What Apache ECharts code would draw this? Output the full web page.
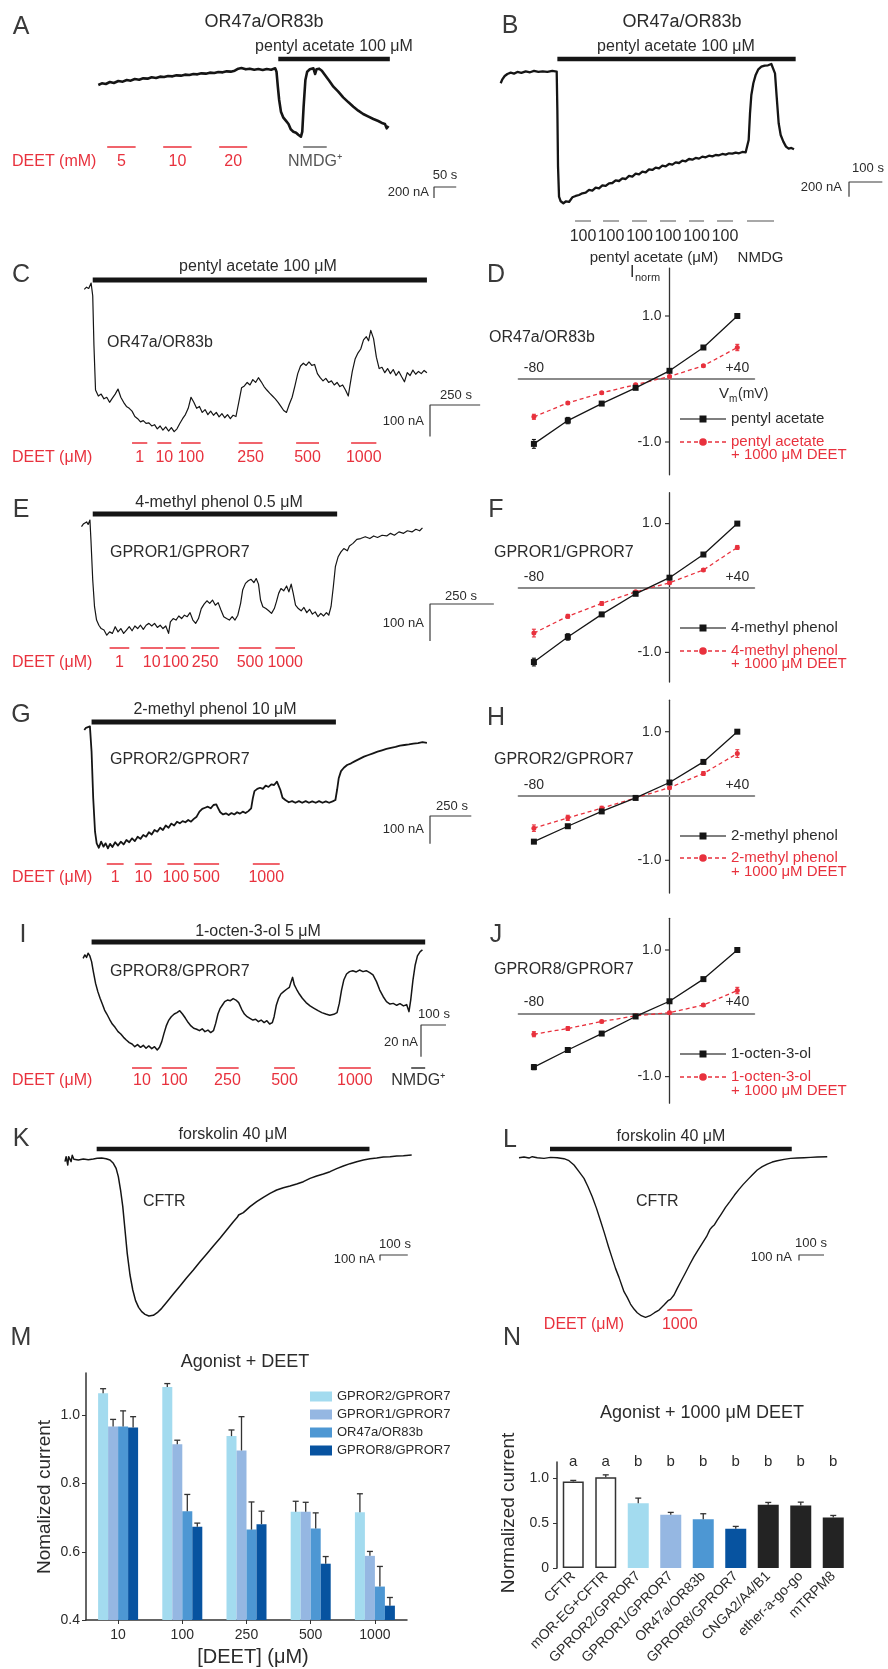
<!DOCTYPE html>
<html>
<head>
<meta charset="utf-8">
<title>DEET inhibition of insect odorant receptor currents</title>
<script src="https://cdn.jsdelivr.net/npm/echarts@6.0.0/dist/echarts.min.js"></script>
<style>
  html, body { margin: 0; padding: 0; background: #ffffff; }
  #fig { width: 888px; height: 1669px; }
</style>
</head>
<body>
<div id="fig"></div>
<script>
// ---------- two-electrode voltage-clamp traces: [time (s), current (nA)] ----------
const traceA = [[0,0],[8,30],[17,18],[26,54],[35,36],[45,72],[55,60],[64,90],[73,78],[82,108],[92,96],[101,120],[111,114],[120,138],[130,126],[139,150],[148,144],[157,162],[167,156],[176,174],[186,168],[195,186],[205,180],[214,198],[223,192],[232,210],[242,204],[251,222],[261,216],[270,234],[280,228],[289,246],[298,240],[307,258],[315,294],[322,306],[332,282],[341,294],[351,276],[360,288],[370,270],[379,288],[389,276],[398,300],[401,240],[404,-30],[407,-270],[411,-480],[416,-582],[422,-642],[428,-702],[433,-798],[439,-840],[445,-858],[450,-894],[456,-930],[459,-840],[462,-390],[466,90],[470,240],[476,282],[484,300],[488,198],[491,282],[497,294],[503,258],[510,180],[520,72],[529,-30],[540,-120],[551,-222],[563,-312],[574,-390],[585,-462],[596,-522],[608,-570],[619,-612],[630,-648],[640,-690],[645,-702],[649,-780],[653,-738]];

const traceB = [[0,0],[5,54],[12,99],[20,126],[30,144],[40,131],[50,153],[62,140],[75,162],[88,149],[100,167],[113,153],[126,162],[140,153],[155,167],[168,158],[170,-360],[172,-1125],[175,-1530],[180,-1593],[188,-1620],[196,-1593],[205,-1602],[215,-1539],[225,-1521],[235,-1508],[245,-1485],[255,-1476],[265,-1440],[275,-1449],[285,-1409],[295,-1418],[305,-1377],[315,-1386],[325,-1350],[335,-1346],[345,-1310],[355,-1319],[365,-1283],[375,-1292],[385,-1251],[395,-1260],[405,-1220],[415,-1229],[425,-1193],[435,-1202],[445,-1161],[455,-1170],[465,-1139],[475,-1148],[485,-1112],[495,-1121],[505,-1089],[515,-1098],[525,-1067],[535,-1076],[545,-1044],[555,-1053],[565,-1022],[575,-1031],[585,-1008],[595,-1017],[605,-990],[615,-999],[625,-977],[635,-986],[645,-968],[655,-972],[665,-954],[675,-963],[685,-945],[695,-950],[705,-936],[715,-945],[725,-927],[735,-932],[741,-909],[744,-765],[748,-405],[752,-158],[758,0],[765,113],[773,189],[782,225],[792,239],[802,243],[812,261],[818,248],[823,135],[828,-180],[834,-540],[840,-698],[848,-788],[856,-855],[864,-882],[872,-873],[880,-891]];

const traceC = [[0,0],[11,7],[22,3],[34,20],[42,-20],[48,-176],[56,-319],[70,-338],[84,-332],[98,-347],[112,-342],[126,-358],[140,-345],[154,-332],[168,-316],[182,-342],[196,-358],[210,-371],[224,-377],[238,-386],[252,-403],[266,-410],[280,-420],[294,-416],[308,-425],[322,-423],[336,-433],[350,-429],[364,-442],[378,-433],[392,-446],[406,-436],[420,-449],[434,-438],[448,-451],[462,-442],[476,-425],[490,-410],[504,-397],[518,-377],[532,-342],[546,-358],[560,-377],[574,-371],[588,-390],[602,-381],[616,-397],[630,-386],[644,-399],[658,-390],[672,-404],[686,-394],[700,-407],[714,-397],[728,-410],[742,-399],[756,-403],[770,-358],[784,-312],[798,-306],[812,-295],[826,-303],[840,-286],[854,-295],[868,-280],[882,-293],[896,-308],[910,-319],[924,-329],[938,-338],[952,-347],[966,-358],[980,-371],[994,-384],[1008,-390],[1022,-364],[1036,-342],[1050,-306],[1064,-267],[1078,-243],[1092,-234],[1106,-241],[1120,-230],[1134,-241],[1148,-238],[1162,-267],[1176,-280],[1190,-290],[1204,-282],[1218,-295],[1232,-290],[1246,-303],[1260,-295],[1274,-308],[1288,-303],[1302,-319],[1316,-338],[1324,-306],[1336,-260],[1350,-221],[1364,-202],[1378,-189],[1392,-160],[1406,-150],[1417,-163],[1428,-130],[1442,-156],[1456,-215],[1470,-251],[1484,-247],[1498,-264],[1512,-251],[1526,-267],[1540,-254],[1554,-273],[1568,-260],[1582,-277],[1596,-293],[1610,-264],[1624,-273],[1638,-256],[1652,-269],[1666,-260],[1680,-267],[1694,-257],[1708,-264]];

const traceE = [[0,0],[7,7],[13,2],[20,13],[26,6],[33,18],[37,-36],[44,-144],[51,-216],[59,-252],[68,-266],[77,-275],[88,-279],[99,-293],[110,-284],[121,-288],[132,-270],[143,-284],[154,-275],[165,-288],[176,-279],[187,-270],[198,-281],[209,-268],[220,-275],[231,-266],[242,-277],[253,-266],[264,-261],[275,-268],[286,-261],[297,-272],[308,-266],[319,-275],[330,-268],[341,-288],[348,-257],[359,-248],[370,-252],[381,-241],[392,-248],[403,-239],[414,-243],[425,-232],[436,-252],[447,-261],[458,-248],[469,-221],[480,-209],[491,-200],[502,-207],[513,-198],[524,-212],[535,-205],[546,-225],[557,-243],[568,-248],[579,-252],[590,-243],[601,-252],[612,-239],[623,-207],[631,-171],[642,-153],[653,-146],[664,-142],[675,-151],[684,-140],[693,-155],[701,-198],[710,-216],[722,-221],[733,-227],[744,-234],[755,-221],[763,-203],[772,-180],[781,-167],[792,-173],[803,-160],[812,-176],[821,-155],[829,-180],[838,-212],[849,-221],[860,-227],[871,-218],[882,-232],[893,-223],[904,-236],[915,-230],[926,-243],[937,-234],[948,-241],[959,-232],[968,-239],[977,-216],[986,-162],[994,-108],[1005,-81],[1016,-68],[1027,-59],[1041,-65],[1049,-52],[1063,-45],[1078,-34],[1093,-32],[1111,-27],[1129,-32],[1144,-25],[1159,-29],[1177,-23],[1195,-25],[1210,-18],[1225,-23],[1243,-14],[1261,-18],[1276,-11],[1294,-14],[1309,-7],[1324,-11],[1335,-3]];

const traceG = [[0,0],[10,8],[20,2],[34,13],[44,-78],[54,-246],[65,-366],[75,-408],[88,-424],[102,-402],[116,-420],[129,-408],[143,-426],[156,-410],[170,-421],[187,-404],[204,-416],[221,-402],[238,-412],[255,-396],[272,-404],[289,-390],[306,-400],[323,-384],[340,-392],[357,-378],[374,-384],[391,-368],[408,-376],[425,-360],[442,-366],[459,-352],[476,-360],[493,-344],[510,-352],[527,-337],[544,-344],[561,-330],[578,-336],[595,-328],[612,-332],[629,-324],[646,-330],[663,-320],[680,-312],[697,-294],[714,-284],[731,-280],[748,-276],[765,-282],[782,-270],[799,-268],[809,-280],[823,-296],[840,-304],[857,-300],[874,-306],[891,-299],[908,-304],[925,-296],[942,-301],[959,-294],[976,-299],[993,-292],[1010,-282],[1020,-246],[1030,-220],[1047,-212],[1064,-208],[1081,-212],[1098,-200],[1115,-205],[1132,-196],[1149,-198],[1166,-186],[1176,-179],[1187,-216],[1200,-244],[1217,-252],[1238,-260],[1258,-256],[1278,-262],[1299,-256],[1319,-262],[1340,-256],[1360,-262],[1380,-257],[1401,-262],[1421,-256],[1442,-262],[1462,-257],[1482,-262],[1503,-257],[1520,-252],[1530,-216],[1540,-174],[1554,-148],[1571,-136],[1591,-126],[1615,-120],[1639,-112],[1666,-104],[1693,-96],[1720,-90],[1748,-84],[1775,-78],[1802,-73],[1829,-68],[1856,-64],[1884,-61],[1911,-56],[1938,-54],[1965,-52],[1992,-49],[2020,-47],[2047,-44],[2074,-46]];

const traceI = [[0,0],[7,2.1],[14,0.6],[20,3.2],[27,1.5],[34,-2.1],[41,-8.4],[50,-15.8],[59,-21.0],[68,-25.2],[77,-28.8],[86,-32.6],[95,-35.1],[106,-38.4],[117,-41.4],[128,-43.5],[140,-46.2],[151,-47.7],[162,-49.8],[173,-51.5],[185,-53.1],[196,-54.0],[207,-55.7],[218,-54.4],[230,-56.1],[241,-54.8],[252,-56.7],[263,-55.2],[275,-56.9],[286,-55.7],[297,-57.8],[306,-56.1],[315,-52.5],[324,-47.3],[333,-42.6],[342,-39.3],[353,-36.8],[365,-35.1],[376,-34.2],[387,-33.0],[398,-35.1],[410,-37.8],[421,-40.5],[432,-42.6],[443,-44.1],[455,-44.7],[466,-45.6],[477,-44.4],[488,-46.2],[500,-45.2],[511,-46.8],[522,-45.6],[531,-41.0],[540,-35.1],[549,-31.5],[558,-29.4],[567,-27.3],[578,-26.3],[590,-26.7],[601,-25.4],[612,-26.3],[623,-27.9],[635,-32.1],[646,-35.1],[657,-36.8],[668,-37.8],[680,-38.9],[691,-38.4],[702,-39.9],[713,-38.9],[725,-40.5],[736,-39.3],[747,-41.4],[758,-40.5],[765,-36.8],[774,-29.4],[783,-25.2],[792,-22.5],[803,-21.0],[815,-19.5],[826,-18.3],[833,-14.7],[839,-12.0],[846,-16.8],[855,-19.5],[866,-22.5],[878,-25.2],[893,-27.9],[909,-30.0],[925,-31.5],[941,-33.0],[956,-34.2],[972,-35.1],[988,-35.9],[1004,-35.3],[1017,-34.2],[1026,-28.4],[1035,-20.0],[1044,-13.7],[1055,-9.9],[1067,-8.4],[1080,-7.8],[1094,-8.6],[1107,-7.4],[1121,-8.4],[1134,-7.8],[1148,-9.0],[1161,-10.5],[1175,-14.7],[1188,-20.0],[1202,-24.2],[1215,-27.3],[1229,-28.8],[1242,-28.4],[1256,-29.6],[1269,-28.6],[1283,-30.0],[1296,-29.2],[1305,-33.6],[1312,-26.3],[1321,-13.7],[1330,-4.2],[1339,1.5],[1350,4.2],[1359,5.3]];

const traceK = [[0,-30],[4,60],[6,90],[10,-90],[13,60],[18,90],[22,-30],[26,84],[32,12],[48,0],[66,18],[84,6],[102,18],[116,30],[132,36],[148,24],[162,0],[174,-60],[184,-150],[192,-300],[200,-540],[208,-840],[216,-1260],[224,-1680],[234,-2070],[244,-2340],[254,-2532],[265,-2652],[276,-2730],[288,-2778],[302,-2808],[318,-2796],[332,-2748],[348,-2670],[366,-2562],[390,-2412],[414,-2268],[438,-2118],[462,-1980],[486,-1830],[510,-1692],[534,-1548],[558,-1410],[582,-1260],[606,-1110],[620,-1032],[625,-990],[642,-948],[666,-840],[690,-750],[714,-672],[738,-600],[762,-540],[786,-498],[810,-468],[834,-432],[858,-390],[882,-330],[906,-288],[930,-252],[954,-210],[978,-156],[1002,-108],[1026,-66],[1050,-30],[1074,0],[1098,24],[1122,36],[1146,54],[1170,60],[1194,72],[1218,78],[1248,90]];

const traceL = [[0,0],[20,12],[40,-6],[53,18],[73,0],[100,-12],[126,6],[153,0],[180,-18],[200,-54],[220,-132],[240,-252],[260,-372],[276,-522],[293,-702],[310,-912],[326,-1134],[342,-1362],[358,-1602],[373,-1812],[386,-1992],[400,-2154],[413,-2322],[420,-2412],[426,-2400],[433,-2514],[446,-2634],[460,-2724],[473,-2790],[489,-2844],[506,-2874],[524,-2844],[542,-2790],[560,-2742],[580,-2652],[596,-2574],[606,-2550],[620,-2472],[633,-2352],[649,-2214],[666,-2070],[684,-1914],[700,-1782],[716,-1662],[733,-1542],[750,-1422],[764,-1290],[773,-1242],[782,-1206],[793,-1122],[809,-1014],[826,-894],[844,-786],[862,-672],[880,-570],[897,-480],[916,-390],[933,-312],[953,-222],[973,-162],[993,-114],[1013,-78],[1033,-54],[1060,-30],[1086,-12],[1113,-6],[1140,0],[1166,6],[1193,12],[1233,18]];

// ---------- application windows (s) and their labels ----------
const agonistA = [405, 656];
const deetA = [[20, 84], [146, 210], [272, 335]];
const deetALabels = ['5', '10', '20'];
const nmdgA = [461, 514];

const agonistB = [170, 885];
const pulsesB = [[223, 271], [307, 355], [394, 439], [478, 526], [565, 610], [649, 697]];
const pulsesBLabels = ['100', '100', '100', '100', '100', '100'];
const nmdgB = [739, 820];

const agonistC = [42, 1708];
const deetC = [[238, 314], [364, 434], [482, 580], [770, 888], [1056, 1170], [1330, 1456]];
const deetCLabels = ['1', '10', '100', '250', '500', '1000'];

const agonistE = [44, 1001];
const deetE = [[110, 187], [231, 319], [330, 407], [429, 539], [616, 704], [759, 836]];
const deetELabels = ['1', '10', '100', '250', '500', '1000'];

const agonistG = [44, 1523];
const deetG = [[136, 238], [306, 408], [503, 605], [663, 816], [1020, 1183]];
const deetGLabels = ['1', '10', '100', '500', '1000'];

const agonistI = [34, 1370];
const deetI = [[196, 275], [315, 416], [533, 623], [765, 848], [1024, 1152]];
const deetILabels = ['10', '100', '250', '500', '1000'];
const nmdgI = [1314, 1370];

const agonistK = [114, 1096];
const agonistL = [124, 1091];
const deetL = [[593, 693]];
const deetLLabels = ['1000'];

// ---------- normalized I-V relations ----------
const ivVoltages = [-80, -60, -40, -20, 0, 20, 40];
const ivTickValues = [-1, 1];
const ivD_agonist = [-1.03, -0.66, -0.39, -0.14, 0.13, 0.50, 1.00];
const ivD_agonistErr = [0.07, 0.05, 0.03, 0.02, 0.02, 0.02, 0.02];
const ivD_deet = [-0.60, -0.38, -0.22, -0.09, 0.04, 0.21, 0.50];
const ivD_deetErr = [0.04, 0.02, 0.02, 0.02, 0.02, 0.02, 0.05];
const ivF_agonist = [-1.15, -0.76, -0.41, -0.09, 0.16, 0.52, 1.00];
const ivF_agonistErr = [0.06, 0.05, 0.03, 0.02, 0.02, 0.02, 0.02];
const ivF_deet = [-0.70, -0.44, -0.24, -0.06, 0.08, 0.28, 0.63];
const ivF_deetErr = [0.06, 0.03, 0.03, 0.02, 0.02, 0.02, 0.03];
const ivH_agonist = [-0.71, -0.47, -0.24, -0.03, 0.21, 0.53, 1.00];
const ivH_agonistErr = [0.02, 0.02, 0.02, 0.02, 0.02, 0.02, 0.02];
const ivH_deet = [-0.50, -0.34, -0.19, -0.03, 0.13, 0.35, 0.66];
const ivH_deetErr = [0.05, 0.04, 0.03, 0.02, 0.02, 0.03, 0.06];
const ivJ_agonist = [-0.85, -0.58, -0.32, -0.05, 0.19, 0.54, 1.00];
const ivJ_agonistErr = [0.04, 0.02, 0.02, 0.02, 0.02, 0.02, 0.02];
const ivJ_deet = [-0.33, -0.24, -0.13, -0.04, 0.01, 0.13, 0.36];
const ivJ_deetErr = [0.04, 0.03, 0.02, 0.02, 0.02, 0.02, 0.05];

// ---------- dose dependence (panel M) ----------
const mConcentrations = ['10', '100', '250', '500', '1000'];
const mReceptors = ['GPROR2/GPROR7', 'GPROR1/GPROR7', 'OR47a/OR83b', 'GPROR8/GPROR7'];
const mTicks = [0.4, 0.6, 0.8, 1.0];
const mGPROR2 = [1.065, 1.083, 0.939, 0.717, 0.716];
const mGPROR2Err = [0.013, 0.010, 0.018, 0.031, 0.054];
const mGPROR1 = [0.967, 0.915, 0.897, 0.717, 0.588];
const mGPROR1Err = [0.021, 0.012, 0.099, 0.028, 0.013];
const mOR47a = [0.967, 0.719, 0.665, 0.668, 0.498];
const mOR47aErr = [0.046, 0.049, 0.081, 0.046, 0.059];
const mGPROR8 = [0.964, 0.673, 0.681, 0.565, 0.442];
const mGPROR8Err = [0.032, 0.011, 0.038, 0.021, 0.024];

// ---------- 1000 uM DEET across channels (panel N) ----------
const nChannels = ['CFTR', 'mOR-EG+CFTR', 'GPROR2/GPROR7', 'GPROR1/GPROR7', 'OR47a/OR83b', 'GPROR8/GPROR7', 'CNGA2/A4/B1', 'ether-a-go-go', 'mTRPM8'];
const nTicks = [0, 0.5, 1.0];
const nMeans = [0.963, 1.011, 0.722, 0.593, 0.544, 0.437, 0.704, 0.696, 0.563];
const nErrs = [0.012, 0.026, 0.056, 0.026, 0.060, 0.026, 0.026, 0.037, 0.022];
const nGroups = ['a', 'a', 'b', 'b', 'b', 'b', 'b', 'b', 'b'];

// ---------- styling ----------
const FONT = '"Liberation Sans", Arial, Helvetica, sans-serif';
const RED = '#e8313d';
const REDBAR = '#f0646c';
const INK = '#151515';
const TXT = '#2b2b2b';
const BLUES = ['#a3dbef', '#95b7e2', '#4d97d3', '#0753a0'];
const N_COLORS = ['#ffffff', '#ffffff', BLUES[0], BLUES[1], BLUES[2], BLUES[3], '#232323', '#232323', '#232323'];

const grids = [], xAxes = [], yAxes = [], series = [], graphics = [];

function T(x, y, text, size, color, align, extra) {
  const a = align || 'left';
  return Object.assign({
    type: 'text', x: x, y: y, silent: true, z: 50,
    style: { text: text, fill: color || TXT, fontSize: size || 16, fontFamily: FONT,
      align: a, verticalAlign: 'middle', textAlign: a, textVerticalAlign: 'middle' }
  }, extra || {});
}
function addText() { graphics.push(T.apply(null, arguments)); }
function addLine(x1, y1, x2, y2, stroke, width, dash) {
  graphics.push({ type: 'line', silent: true, z: 50, shape: { x1: x1, y1: y1, x2: x2, y2: y2 },
    style: { stroke: stroke, lineWidth: width, lineDash: dash || null } });
}

// ---------- current traces ----------
function tracePanel(def) {
  const gi = grids.length;
  const up = Math.min(150, def.y0 - 1);
  const w = Math.min(430, 887 - def.x0);
  grids.push({ left: def.x0, top: def.y0 - up, width: w, height: up + 200 });
  xAxes.push({ type: 'value', gridIndex: gi, show: false, min: 0, max: w / def.pxPerSec });
  yAxes.push({ type: 'value', gridIndex: gi, show: false, min: -200 / def.pxPerNA, max: up / def.pxPerNA });
  def.gi = gi;
  series.push({ type: 'line', xAxisIndex: gi, yAxisIndex: gi, data: def.trace, symbol: 'none',
    clip: false, silent: true, animation: false, z: 2,
    lineStyle: { color: INK, width: def.lw, join: 'round' } });
  return def;
}
const tPx = (p, t) => p.x0 + t * p.pxPerSec;
function seg(p, win, ypx, color, width) {
  const v = (p.y0 - ypx) / p.pxPerNA;
  series.push({ type: 'line', xAxisIndex: p.gi, yAxisIndex: p.gi, data: [[win[0], v], [win[1], v]],
    symbol: 'none', clip: false, silent: true, animation: false, z: 3,
    lineStyle: { color: color, width: width, cap: 'butt' } });
}
function scaleBar(p, cx, cy, sec, nA) {
  const t = (cx - p.x0) / p.pxPerSec, v = (p.y0 - cy) / p.pxPerNA;
  series.push({ type: 'line', xAxisIndex: p.gi, yAxisIndex: p.gi,
    data: [[t + sec, v], [t, v], [t, v - nA]], symbol: 'none', clip: false, silent: true,
    animation: false, z: 3, lineStyle: { color: '#3a3a3a', width: 1.2, cap: 'butt' } });
}
function windows(p, wins, labels, barY, labelY, color, textColor) {
  wins.forEach((w, i) => {
    seg(p, w, barY, color, 2);
    if (labels && labels[i]) addText(tPx(p, (w[0] + w[1]) / 2), labelY, labels[i], 16, textColor, 'center');
  });
}

const pA = tracePanel({ x0: 98.3, y0: 85, pxPerSec: 0.4444, pxPerNA: 0.05556, trace: traceA, lw: 2.6 });
const pB = tracePanel({ x0: 500.7, y0: 83.3, pxPerSec: 0.3333, pxPerNA: 0.07407, trace: traceB, lw: 2.3 });
const pC = tracePanel({ x0: 84.3, y0: 289.4, pxPerSec: 0.2006, pxPerNA: 0.3154, trace: traceC, lw: 1.2 });
const pE = tracePanel({ x0: 81.5, y0: 526.7, pxPerSec: 0.2554, pxPerNA: 0.3704, trace: traceE, lw: 1.2 });
const pG = tracePanel({ x0: 84.3, y0: 730, pxPerSec: 0.1652, pxPerNA: 0.2778, trace: traceG, lw: 1.8 });
const pI = tracePanel({ x0: 83.1, y0: 958.3, pxPerSec: 0.2497, pxPerNA: 1.5873, trace: traceI, lw: 1.5 });
const pK = tracePanel({ x0: 65, y0: 1160, pxPerSec: 0.2778, pxPerNA: 0.05556, trace: traceK, lw: 1.5 });
const pL = tracePanel({ x0: 519, y0: 1157.7, pxPerSec: 0.25, pxPerNA: 0.05556, trace: traceL, lw: 1.4 });

// A
addText(264, 22, 'OR47a/OR83b', 18, TXT, 'center');
addText(334, 47, 'pentyl acetate 100 \u03bcM', 16, TXT, 'center');
seg(pA, agonistA, 59, INK, 4.5);
windows(pA, deetA, deetALabels, 147, 162, REDBAR, RED);
seg(pA, nmdgA, 147, '#8c8c8c', 2);
addText(tPx(pA, (nmdgA[0] + nmdgA[1]) / 2), 162, 'NMDG\u207a', 16, '#555', 'center');
addText(12, 162, 'DEET (mM)', 16, RED, 'left');
scaleBar(pA, 434, 187, 50, 200);
addText(445, 175, '50 s', 13, TXT, 'center');
addText(429, 192, '200 nA', 13, TXT, 'right');

// B
addText(682, 22, 'OR47a/OR83b', 18, TXT, 'center');
addText(676, 47, 'pentyl acetate 100 \u03bcM', 16, TXT, 'center');
seg(pB, agonistB, 59, INK, 4.5);
windows(pB, pulsesB, pulsesBLabels, 221, 237, '#a8a8a8', TXT);
seg(pB, nmdgB, 221, '#a8a8a8', 2);
addText(654, 258, 'pentyl acetate (\u03bcM)', 15, TXT, 'center');
addText(tPx(pB, (nmdgB[0] + nmdgB[1]) / 2), 258, 'NMDG', 15, TXT, 'center');
scaleBar(pB, 849, 182, 100, 200);
addText(868, 168, '100 s', 13, TXT, 'center');
addText(842, 187, '200 nA', 13, TXT, 'right');

// C
addText(258, 267, 'pentyl acetate 100 \u03bcM', 16, TXT, 'center');
seg(pC, agonistC, 280, INK, 5);
addText(107, 343, 'OR47a/OR83b', 16, TXT, 'left');
windows(pC, deetC, deetCLabels, 443, 458, REDBAR, RED);
addText(12, 458, 'DEET (\u03bcM)', 16, RED, 'left');
scaleBar(pC, 430, 405, 250, 100);
addText(456, 395, '250 s', 13, TXT, 'center');
addText(424, 421, '100 nA', 13, TXT, 'right');

// E
addText(219, 503, '4-methyl phenol 0.5 \u03bcM', 16, TXT, 'center');
seg(pE, agonistE, 514, INK, 5);
addText(110, 553, 'GPROR1/GPROR7', 16, TXT, 'left');
windows(pE, deetE, deetELabels, 648, 663, REDBAR, RED);
addText(12, 663, 'DEET (\u03bcM)', 16, RED, 'left');
scaleBar(pE, 430, 604, 250, 100);
addText(461, 596, '250 s', 13, TXT, 'center');
addText(424, 623, '100 nA', 13, TXT, 'right');

// G
addText(215, 710, '2-methyl phenol 10 \u03bcM', 16, TXT, 'center');
seg(pG, agonistG, 722, INK, 5);
addText(110, 760, 'GPROR2/GPROR7', 16, TXT, 'left');
windows(pG, deetG, deetGLabels, 864, 878, REDBAR, RED);
addText(12, 878, 'DEET (\u03bcM)', 16, RED, 'left');
scaleBar(pG, 430, 816, 250, 100);
addText(452, 806, '250 s', 13, TXT, 'center');
addText(424, 829, '100 nA', 13, TXT, 'right');

// I
addText(258, 932, '1-octen-3-ol 5 \u03bcM', 16, TXT, 'center');
seg(pI, agonistI, 942, INK, 5);
addText(110, 972, 'GPROR8/GPROR7', 16, TXT, 'left');
windows(pI, deetI, deetILabels, 1068, 1081, REDBAR, RED);
seg(pI, nmdgI, 1068, '#333', 1.6);
addText(tPx(pI, (nmdgI[0] + nmdgI[1]) / 2), 1081, 'NMDG\u207a', 16, '#333', 'center');
addText(12, 1081, 'DEET (\u03bcM)', 16, RED, 'left');
scaleBar(pI, 421, 1025, 100, 20);
addText(434, 1014, '100 s', 13, TXT, 'center');
addText(418, 1042, '20 nA', 13, TXT, 'right');

// K
addText(233, 1135, 'forskolin 40 \u03bcM', 16, TXT, 'center');
seg(pK, agonistK, 1149, INK, 4.5);
addText(143, 1202, 'CFTR', 16, TXT, 'left');
scaleBar(pK, 380, 1255, 100, 100);
addText(395, 1244, '100 s', 13, TXT, 'center');
addText(375, 1259, '100 nA', 13, TXT, 'right');

// L
addText(671, 1137, 'forskolin 40 \u03bcM', 16, TXT, 'center');
seg(pL, agonistL, 1149, INK, 4.5);
addText(636, 1202, 'CFTR', 16, TXT, 'left');
windows(pL, deetL, deetLLabels, 1310, 1325, REDBAR, RED);
addText(584, 1325, 'DEET (\u03bcM)', 16, RED, 'center');
scaleBar(pL, 799, 1255, 100, 100);
addText(811, 1243, '100 s', 13, TXT, 'center');
addText(792, 1257, '100 nA', 13, TXT, 'right');

// ---------- I-V panels ----------
const IV_X0 = 669.5, IV_PX = 1.695, IV_XMIN = -89, IV_XMAX = 50;
function errSeries(gi, xs, ys, es, color, upOnly, offset) {
  return {
    type: 'custom', xAxisIndex: gi, yAxisIndex: gi, silent: true, animation: false, z: 4, clip: false,
    data: xs.map((x, i) => [x, ys[i], es[i]]),
    renderItem: function (params, api) {
      const x = api.value(0), y = api.value(1), e = api.value(2);
      const c = api.coord([x, y]);
      const top = api.coord([x, y + e]);
      const bot = upOnly ? c : api.coord([x, y - e]);
      const px = c[0] + (offset || 0);
      const hw = upOnly ? 3 : 2;
      const st = { stroke: color, lineWidth: upOnly ? 1.3 : 1.1 };
      const kids = [
        { type: 'line', shape: { x1: px, y1: bot[1], x2: px, y2: top[1] }, style: st },
        { type: 'line', shape: { x1: px - hw, y1: top[1], x2: px + hw, y2: top[1] }, style: st }
      ];
      if (!upOnly) kids.push({ type: 'line', shape: { x1: px - hw, y1: bot[1], x2: px + hw, y2: bot[1] }, style: st });
      return { type: 'group', children: kids };
    }
  };
}
function ivPanel(q) {
  const gi = grids.length;
  grids.push({ left: IV_X0 + IV_XMIN * IV_PX, top: q.zeroY - q.yMax * q.unit,
    width: (IV_XMAX - IV_XMIN) * IV_PX, height: (q.yMax - q.yMin) * q.unit });
  xAxes.push({ type: 'value', gridIndex: gi, min: IV_XMIN, max: IV_XMAX,
    axisLine: { show: true, onZero: true, lineStyle: { color: '#8a8a8a', width: 2 } },
    axisTick: { show: false }, splitLine: { show: false }, axisLabel: { show: false } });
  yAxes.push({ type: 'value', gridIndex: gi, min: q.yMin, max: q.yMax,
    axisLine: { show: true, onZero: true, lineStyle: { color: '#333', width: 1.3 } },
    axisTick: { show: false }, splitLine: { show: false }, axisLabel: { show: false } });
  series.push({ type: 'line', xAxisIndex: gi, yAxisIndex: gi, data: ivVoltages.map((v, i) => [v, q.deet[i]]),
    symbol: 'circle', symbolSize: 5, silent: true, animation: false, z: 5,
    itemStyle: { color: RED }, lineStyle: { color: RED, width: 1.3, type: [4, 3] } });
  series.push({ type: 'line', xAxisIndex: gi, yAxisIndex: gi, data: ivVoltages.map((v, i) => [v, q.agonist[i]]),
    symbol: 'rect', symbolSize: 6, silent: true, animation: false, z: 6,
    itemStyle: { color: INK }, lineStyle: { color: INK, width: 1.3 } });
  series.push(errSeries(gi, ivVoltages, q.deet, q.deetErr, RED, false));
  series.push(errSeries(gi, ivVoltages, q.agonist, q.agonistErr, INK, false));
  // tick marks and tick labels beside the axes that cross at the origin
  ivTickValues.forEach(v => {
    const y = q.zeroY - v * q.unit;
    addLine(IV_X0 - 4.5, y, IV_X0, y, '#333', 1.2);
    addText(IV_X0 - 8, y, v.toFixed(1), 14, TXT, 'right');
  });
  addText(IV_X0 - 80 * IV_PX, q.zeroY - 11, '-80', 14, TXT, 'center');
  addText(IV_X0 + 40 * IV_PX, q.zeroY - 11, '+40', 14, TXT, 'center');
  addText(q.labelX, q.labelY, q.receptor, 16, TXT, 'left');
  // legend
  const lx1 = 680, lx2 = 726, lm = 703;
  addLine(lx1, q.legY[0], lx2, q.legY[0], '#555', 1.6);
  graphics.push({ type: 'rect', silent: true, z: 51, shape: { x: lm - 3.5, y: q.legY[0] - 3.5, width: 7, height: 7 }, style: { fill: INK } });
  addText(731, q.legY[0], q.agonistName, 15, TXT, 'left');
  addLine(lx1, q.legY[1], lx2, q.legY[1], RED, 1.4, [4, 3]);
  graphics.push({ type: 'circle', silent: true, z: 51, shape: { cx: lm, cy: q.legY[1], r: 3.8 }, style: { fill: RED } });
  addText(731, q.legY[1], q.agonistName, 15, RED, 'left');
  addText(731, q.legY[2], '+ 1000 \u03bcM DEET', 15, RED, 'left');
}

ivPanel({ zeroY: 379, unit: 63, yMax: 1.76, yMin: -1.52, agonist: ivD_agonist, agonistErr: ivD_agonistErr,
  deet: ivD_deet, deetErr: ivD_deetErr, receptor: 'OR47a/OR83b', labelX: 489, labelY: 338,
  agonistName: 'pentyl acetate', legY: [419, 442, 455] });
ivPanel({ zeroY: 588, unit: 64.4, yMax: 1.48, yMin: -1.46, agonist: ivF_agonist, agonistErr: ivF_agonistErr,
  deet: ivF_deet, deetErr: ivF_deetErr, receptor: 'GPROR1/GPROR7', labelX: 494, labelY: 553,
  agonistName: '4-methyl phenol', legY: [628, 651, 664] });
ivPanel({ zeroY: 796, unit: 64.3, yMax: 1.49, yMin: -1.51, agonist: ivH_agonist, agonistErr: ivH_agonistErr,
  deet: ivH_deet, deetErr: ivH_deetErr, receptor: 'GPROR2/GPROR7', labelX: 494, labelY: 760,
  agonistName: '2-methyl phenol', legY: [836, 858, 872] });
ivPanel({ zeroY: 1013.3, unit: 63.3, yMax: 1.5, yMin: -1.42, agonist: ivJ_agonist, agonistErr: ivJ_agonistErr,
  deet: ivJ_deet, deetErr: ivJ_deetErr, receptor: 'GPROR8/GPROR7', labelX: 494, labelY: 970,
  agonistName: '1-octen-3-ol', legY: [1054, 1077, 1091] });

// axis names of the top I-V plot
addText(630, 273, 'I', 16, TXT, 'left');
addText(635, 278, 'norm', 11, TXT, 'left');
addText(719, 394, 'V', 15, TXT, 'left');
addText(729, 399, 'm', 10, TXT, 'left');
addText(738, 394, '(mV)', 14, TXT, 'left');

// ---------- panel M: grouped bars ----------
const mGi = grids.length;
grids.push({ left: 86, top: 1373, width: 321, height: 247 });
xAxes.push({ type: 'category', gridIndex: mGi, data: mConcentrations,
  axisLine: { show: true, lineStyle: { color: '#333', width: 1.5 } },
  axisTick: { show: true, alignWithLabel: true, length: 4, lineStyle: { color: '#333' } },
  axisLabel: { fontSize: 14, color: TXT, fontFamily: FONT, margin: 8 } });
yAxes.push({ type: 'value', gridIndex: mGi, min: 0.4, max: 1.124, interval: 0.2,
  axisLine: { show: true, lineStyle: { color: '#333', width: 1.5 } },
  axisTick: { show: true, length: 4, customValues: mTicks, lineStyle: { color: '#333' } },
  splitLine: { show: false },
  axisLabel: { customValues: mTicks, fontSize: 14, color: TXT, fontFamily: FONT, margin: 6,
    formatter: v => (Math.abs(v * 5 - Math.round(v * 5)) < 1e-6 ? v.toFixed(1) : '') } });
const mSets = [[mGPROR2, mGPROR2Err], [mGPROR1, mGPROR1Err], [mOR47a, mOR47aErr], [mGPROR8, mGPROR8Err]];
mSets.forEach((s, k) => {
  series.push({ type: 'bar', name: mReceptors[k], xAxisIndex: mGi, yAxisIndex: mGi, data: s[0],
    barWidth: 10, barGap: '0%', silent: true, animation: false, itemStyle: { color: BLUES[k] } });
});
mSets.forEach((s, k) => {
  series.push(errSeries(mGi, mConcentrations.map((c, i) => i), s[0], s[1], '#333', true, (k - 1.5) * 10));
});
addText(245, 1362, 'Agonist + DEET', 18, TXT, 'center');
addText(253, 1657, '[DEET] (\u03bcM)', 20, TXT, 'center');
addText(45, 1497, 'Nomalized current', 19, TXT, 'center', { rotation: Math.PI / 2 });

// ---------- panel N: single bars ----------
const nGi = grids.length;
const N_YMAX = 1.18;
grids.push({ left: 557, top: 1462, width: 292.5, height: 106 });
xAxes.push({ type: 'category', gridIndex: nGi, data: nChannels,
  axisLine: { show: false }, axisTick: { show: false },
  axisLabel: { rotate: 45, interval: 0, margin: 6, fontSize: 14, color: TXT, fontFamily: FONT } });
yAxes.push({ type: 'value', gridIndex: nGi, min: 0, max: N_YMAX, interval: 0.5,
  axisLine: { show: true, lineStyle: { color: '#333', width: 1.5 } },
  axisTick: { show: true, length: 4, customValues: nTicks, lineStyle: { color: '#333' } },
  splitLine: { show: false },
  axisLabel: { customValues: nTicks, fontSize: 14, color: TXT, fontFamily: FONT, margin: 8,
    formatter: v => (v === 0 ? '0' : (Math.abs(v * 2 - Math.round(v * 2)) < 1e-6 ? v.toFixed(1) : '')) } });
series.push({ type: 'bar', xAxisIndex: nGi, yAxisIndex: nGi, barWidth: 21, silent: true, animation: false,
  data: nMeans.map((v, i) => ({ value: v, itemStyle: { color: N_COLORS[i],
    borderColor: i < 2 ? '#333' : N_COLORS[i], borderWidth: i < 2 ? 1.5 : 0 } })) });
series.push(errSeries(nGi, nChannels.map((c, i) => i), nMeans, nErrs, '#333', true, 0));
series.push({ type: 'custom', xAxisIndex: nGi, yAxisIndex: nGi, silent: true, animation: false, clip: false,
  data: nGroups.map((g, i) => [i, g]),
  renderItem: function (params, api) {
    const p = api.coord([api.value(0), N_YMAX]);
    return { type: 'text', x: p[0], y: p[1], style: { text: nGroups[params.dataIndex], fill: TXT,
      fontSize: 15, fontFamily: FONT, align: 'center', verticalAlign: 'middle' } };
  } });
addText(702, 1413, 'Agonist + 1000 \u03bcM DEET', 18, TXT, 'center');
addText(509, 1513, 'Normalized current', 19, TXT, 'center', { rotation: Math.PI / 2 });

// ---------- panel letters ----------
[['A', 21, 27], ['B', 510, 26], ['C', 21, 275], ['D', 496, 275], ['E', 21, 510], ['F', 496, 510],
 ['G', 21, 715], ['H', 496, 718], ['I', 23, 935], ['J', 496, 935], ['K', 21, 1139], ['L', 510, 1140],
 ['M', 21, 1338], ['N', 512, 1338]].forEach(l => addText(l[1], l[2], l[0], 25, '#3a3a3a', 'center'));

const chart = echarts.init(document.getElementById('fig'), null, { renderer: 'canvas', width: 888, height: 1669 });
chart.setOption({
  animation: false,
  backgroundColor: '#ffffff',
  textStyle: { fontFamily: FONT },
  grid: grids,
  xAxis: xAxes,
  yAxis: yAxes,
  legend: { data: mReceptors, orient: 'vertical', left: 310, top: 1390, itemWidth: 22, itemHeight: 10,
    itemGap: 5, padding: 0, icon: 'rect', selectedMode: false,
    textStyle: { fontSize: 13, color: TXT, fontFamily: FONT } },
  series: series,
  graphic: { elements: graphics }
});
</script>
</body>
</html>
